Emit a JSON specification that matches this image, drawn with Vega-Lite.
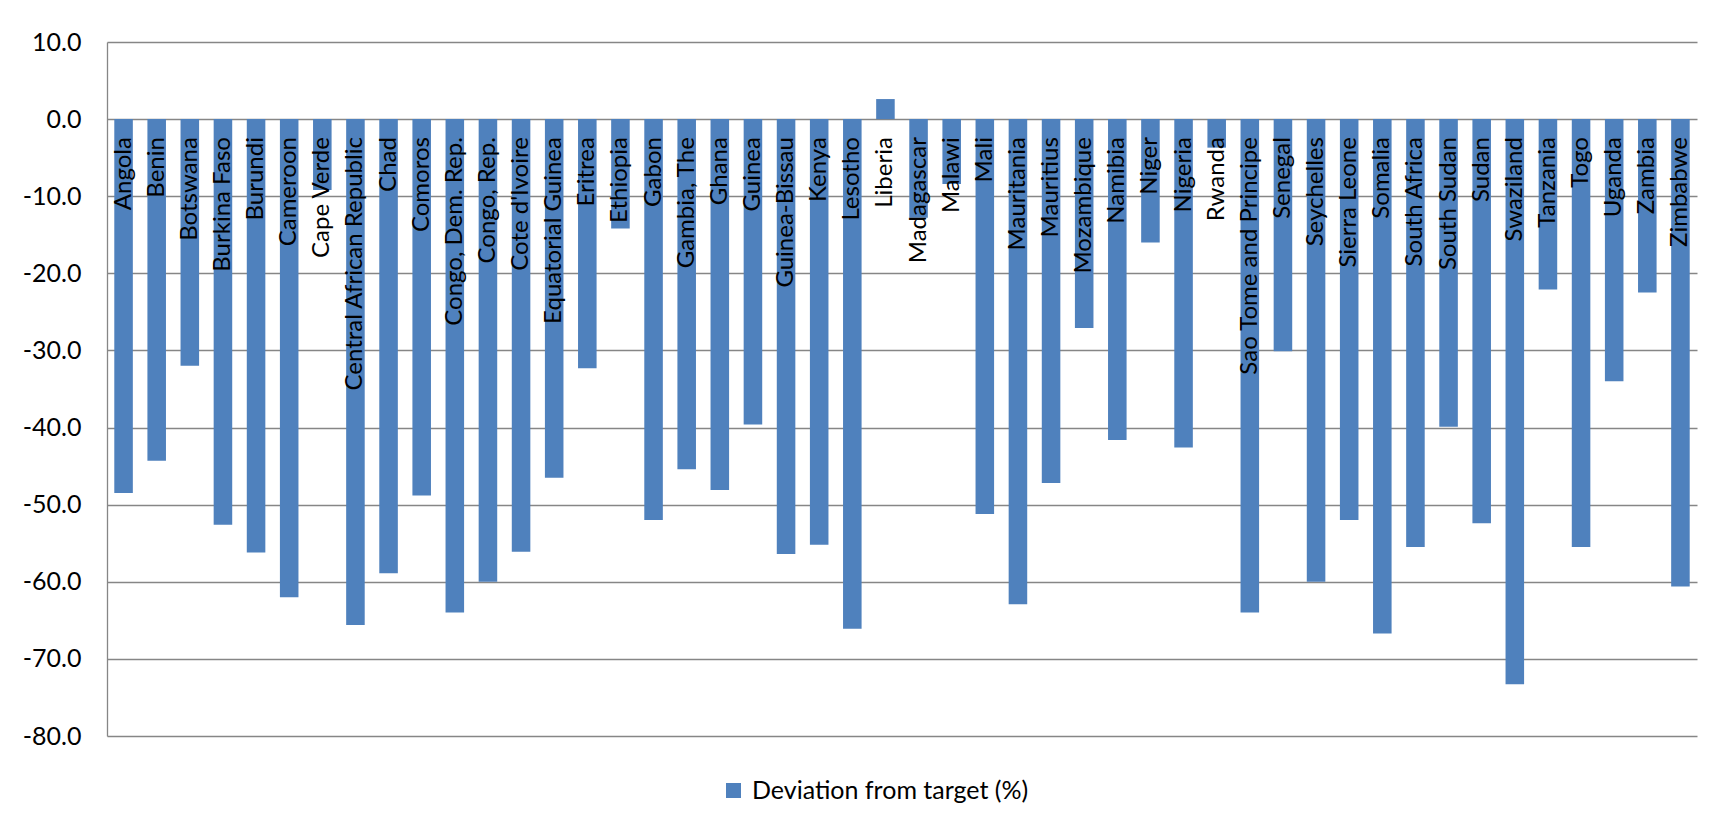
{
  "$schema": "https://vega.github.io/schema/vega-lite/v6.json",
  "width": 1590,
  "height": 694,
  "autosize": {"type": "none"},
  "padding": {"left": 107, "top": 42, "right": 19, "bottom": 87},
  "background": "white",
  "config": {"view": {"stroke": null}, "font": "Lato"},
  "data": {
    "values": [
      {"country": "Angola", "deviation": -48.5},
      {"country": "Benin", "deviation": -44.3},
      {"country": "Botswana", "deviation": -32.0},
      {"country": "Burkina Faso", "deviation": -52.6},
      {"country": "Burundi", "deviation": -56.2},
      {"country": "Cameroon", "deviation": -62.0},
      {"country": "Cape Verde", "deviation": -9.2},
      {"country": "Central African Republic", "deviation": -65.6},
      {"country": "Chad", "deviation": -58.9},
      {"country": "Comoros", "deviation": -48.8},
      {"country": "Congo, Dem. Rep.", "deviation": -64.0},
      {"country": "Congo, Rep.", "deviation": -60.0},
      {"country": "Cote d'Ivoire", "deviation": -56.1},
      {"country": "Equatorial Guinea", "deviation": -46.5},
      {"country": "Eritrea", "deviation": -32.3},
      {"country": "Ethiopia", "deviation": -14.2},
      {"country": "Gabon", "deviation": -52.0},
      {"country": "Gambia, The", "deviation": -45.4},
      {"country": "Ghana", "deviation": -48.1},
      {"country": "Guinea", "deviation": -39.6},
      {"country": "Guinea-Bissau", "deviation": -56.4},
      {"country": "Kenya", "deviation": -55.2},
      {"country": "Lesotho", "deviation": -66.1},
      {"country": "Liberia", "deviation": 2.6},
      {"country": "Madagascar", "deviation": -12.8},
      {"country": "Malawi", "deviation": -8.4},
      {"country": "Mali", "deviation": -51.2},
      {"country": "Mauritania", "deviation": -62.9},
      {"country": "Mauritius", "deviation": -47.2},
      {"country": "Mozambique", "deviation": -27.1},
      {"country": "Namibia", "deviation": -41.6},
      {"country": "Niger", "deviation": -16.0},
      {"country": "Nigeria", "deviation": -42.6},
      {"country": "Rwanda", "deviation": -3.7},
      {"country": "Sao Tome and Principe", "deviation": -64.0},
      {"country": "Senegal", "deviation": -30.1},
      {"country": "Seychelles", "deviation": -60.0},
      {"country": "Sierra Leone", "deviation": -52.0},
      {"country": "Somalia", "deviation": -66.7},
      {"country": "South Africa", "deviation": -55.5},
      {"country": "South Sudan", "deviation": -39.9},
      {"country": "Sudan", "deviation": -52.4},
      {"country": "Swaziland", "deviation": -73.3},
      {"country": "Tanzania", "deviation": -22.1},
      {"country": "Togo", "deviation": -55.5},
      {"country": "Uganda", "deviation": -34.0},
      {"country": "Zambia", "deviation": -22.5},
      {"country": "Zimbabwe", "deviation": -60.6}
    ]
  },
  "mark": {"type": "bar"},
  "encoding": {
    "x": {
      "field": "country",
      "type": "nominal",
      "sort": null,
      "scale": {"paddingInner": 0.44, "paddingOuter": 0.22},
      "axis": {
        "title": null,
        "orient": "bottom",
        "offset": -617.4,
        "zindex": 1,
        "domain": false,
        "ticks": false,
        "grid": false,
        "labelAngle": -90,
        "labelAlign": "right",
        "labelBaseline": "middle",
        "labelPadding": 18,
        "labelFontSize": 24,
        "labelColor": "#000000",
        "labelOverlap": false,
        "labelBound": false,
        "labelLimit": 500
      }
    },
    "y": {
      "field": "deviation",
      "type": "quantitative",
      "scale": {"domain": [-80, 10], "nice": false},
      "axis": {
        "title": null,
        "values": [-80, -70, -60, -50, -40, -30, -20, -10, 0, 10],
        "format": ".1f",
        "labelExpr": "replace(datum.label, '\u2212', '-')",
        "ticks": false,
        "grid": true,
        "gridColor": "#868686",
        "gridWidth": 1.3,
        "domain": true,
        "domainColor": "#868686",
        "domainWidth": 1.3,
        "labelFontSize": 25,
        "labelColor": "#000000",
        "labelPadding": 26
      }
    },
    "color": {
      "datum": "Deviation from target (%)",
      "type": "nominal",
      "scale": {"range": ["#4F81BD"]},
      "legend": {
        "title": null,
        "orient": "none",
        "legendX": 614,
        "legendY": 736,
        "symbolType": "square",
        "symbolSize": 225,
        "symbolStrokeWidth": 0,
        "labelFontSize": 25,
        "labelColor": "#000000",
        "labelOffset": 6,
        "labelLimit": 500
      }
    }
  }
}
